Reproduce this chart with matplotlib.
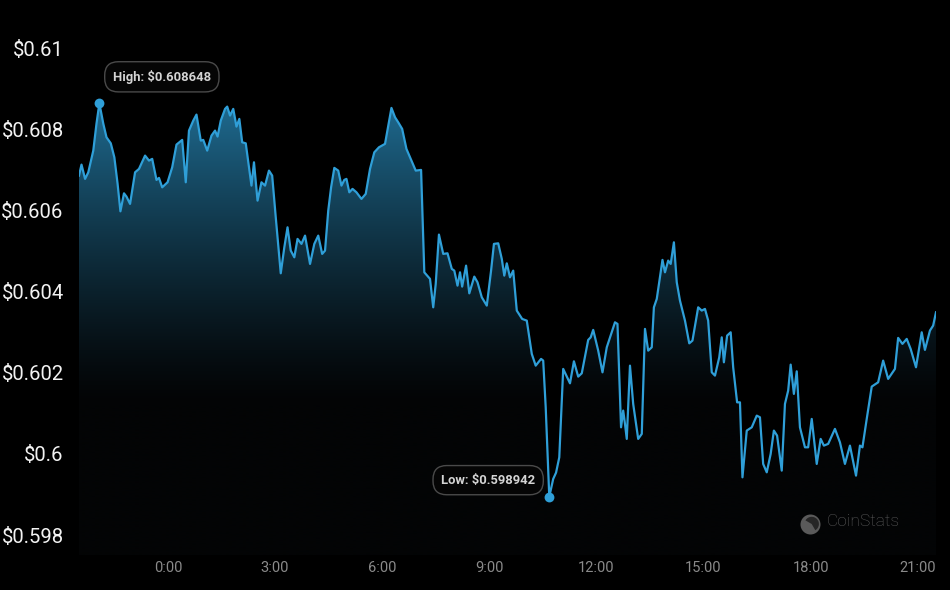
import numpy as np
import matplotlib
matplotlib.use("Agg")
import matplotlib.pyplot as plt
from matplotlib.patches import Circle, Wedge

plt.rcParams['font.family'] = ['Roboto', 'DejaVu Sans']
plt.rcParams['text.parse_math'] = False

# ---- data (hours relative to 0:00, price in USD) ----
hours = [
    -2.49, -2.42, -2.32, -2.23, -2.09, -2.00, -1.92, -1.81, -1.72, -1.60,
    -1.50, -1.41, -1.33, -1.23, -1.16, -1.06, -0.92, -0.81, -0.64, -0.53,
    -0.44, -0.32, -0.25, -0.16, -0.01, 0.12, 0.24, 0.40, 0.50, 0.59,
    0.71, 0.80, 0.92, 0.99, 1.10, 1.22, 1.32, 1.39, 1.48, 1.60,
    1.66, 1.74, 1.83, 1.92, 2.00, 2.08, 2.18, 2.27, 2.34, 2.41,
    2.51, 2.62, 2.72, 2.83, 2.92, 3.02, 3.16, 3.26, 3.35, 3.44,
    3.54, 3.63, 3.74, 3.84, 3.98, 4.10, 4.21, 4.32, 4.40, 4.49,
    4.57, 4.66, 4.77, 4.86, 4.94, 5.00, 5.08, 5.17, 5.28, 5.42,
    5.54, 5.66, 5.78, 5.91, 6.08, 6.26, 6.36, 6.45, 6.56, 6.68,
    6.82, 6.94, 7.09, 7.18, 7.34, 7.43, 7.50, 7.59, 7.71, 7.83,
    7.95, 8.02, 8.11, 8.18, 8.24, 8.35, 8.44, 8.58, 8.67, 8.79,
    8.93, 9.05, 9.13, 9.25, 9.35, 9.42, 9.49, 9.58, 9.67, 9.77,
    9.92, 10.05, 10.19, 10.30, 10.45, 10.51, 10.58, 10.68, 10.79, 10.87,
    10.96, 11.07, 11.26, 11.37, 11.49, 11.59, 11.77, 11.84, 11.91, 12.05,
    12.17, 12.29, 12.52, 12.59, 12.69, 12.75, 12.80, 12.85, 12.94, 13.03,
    13.17, 13.27, 13.36, 13.45, 13.55, 13.61, 13.69, 13.85, 13.92, 14.01,
    14.08, 14.17, 14.25, 14.34, 14.48, 14.60, 14.69, 14.85, 14.95, 15.04,
    15.13, 15.23, 15.32, 15.44, 15.51, 15.57, 15.66, 15.76, 15.83, 15.94,
    16.02, 16.09, 16.21, 16.35, 16.49, 16.58, 16.67, 16.77, 16.88, 16.97,
    17.06, 17.19, 17.28, 17.37, 17.44, 17.53, 17.61, 17.70, 17.84, 17.93,
    18.03, 18.17, 18.28, 18.37, 18.49, 18.68, 18.82, 18.96, 19.10, 19.27,
    19.38, 19.45, 19.57, 19.71, 19.89, 20.03, 20.17, 20.36, 20.45, 20.57,
    20.69, 20.80, 20.95, 21.11, 21.20, 21.34, 21.43, 21.51,
]

prices = [
    0.606863, 0.607134, 0.606782, 0.606944, 0.607479, 0.608145, 0.608648, 0.608145, 0.607807, 0.607659,
    0.607314, 0.606666, 0.605982, 0.606426, 0.606345, 0.606165, 0.606944, 0.607028, 0.607356, 0.607233,
    0.607275, 0.606757, 0.606806, 0.606574, 0.606698, 0.607068, 0.607627, 0.607743, 0.606698, 0.607973,
    0.608219, 0.608367, 0.607726, 0.607743, 0.607479, 0.607849, 0.607973, 0.607825, 0.608219, 0.608508,
    0.608564, 0.608343, 0.608508, 0.608071, 0.608261, 0.607684, 0.607659, 0.607068, 0.606616, 0.607191,
    0.606246, 0.606698, 0.606616, 0.606986, 0.606863, 0.605835, 0.604454, 0.605095, 0.605588, 0.605013,
    0.604848, 0.605302, 0.605179, 0.605383, 0.604685, 0.605179, 0.605383, 0.604932, 0.605013, 0.606000,
    0.606574, 0.607053, 0.606986, 0.606616, 0.606757, 0.606782, 0.606451, 0.606535, 0.606451, 0.606288,
    0.606412, 0.607028, 0.607437, 0.607561, 0.607645, 0.608532, 0.608301, 0.608177, 0.608015, 0.607521,
    0.607233, 0.606986, 0.607003, 0.604478, 0.604316, 0.603615, 0.604192, 0.605408, 0.604932, 0.604947,
    0.604562, 0.604520, 0.604150, 0.604478, 0.604126, 0.604643, 0.603960, 0.604372, 0.604232, 0.603862,
    0.603657, 0.604520, 0.605179, 0.605193, 0.604809, 0.604397, 0.604700, 0.604355, 0.604520, 0.603534,
    0.603329, 0.603287, 0.602466, 0.602177, 0.602343, 0.602301, 0.601149, 0.598942, 0.599383, 0.599539,
    0.599916, 0.602096, 0.601741, 0.602284, 0.601906, 0.601988, 0.602811, 0.602875, 0.603058, 0.602547,
    0.602012, 0.602629, 0.603245, 0.603206, 0.600656, 0.601068, 0.600740, 0.600370, 0.602177, 0.601233,
    0.600370, 0.600493, 0.603083, 0.602547, 0.602629, 0.603615, 0.603822, 0.604784, 0.604478, 0.604767,
    0.604685, 0.605218, 0.604232, 0.603780, 0.603287, 0.602727, 0.602794, 0.603615, 0.603534, 0.603576,
    0.603287, 0.602012, 0.601931, 0.602382, 0.602875, 0.602259, 0.602917, 0.602999, 0.602136, 0.601272,
    0.601272, 0.599423, 0.600575, 0.600656, 0.600944, 0.600903, 0.599753, 0.599546, 0.600000, 0.600575,
    0.600451, 0.599588, 0.601233, 0.601561, 0.602202, 0.601480, 0.602037, 0.600656, 0.600163, 0.600163,
    0.600863, 0.599753, 0.600370, 0.600205, 0.600247, 0.600617, 0.600286, 0.599753, 0.600205, 0.599465,
    0.600205, 0.600163, 0.600863, 0.601660, 0.601766, 0.602301, 0.601850, 0.602096, 0.602861, 0.602713,
    0.602836, 0.602589, 0.602136, 0.602999, 0.602565, 0.603041, 0.603164, 0.603492,
]

ytick_values = [0.598, 0.600, 0.602, 0.604, 0.606, 0.608, 0.610]
ytick_labels = ['$0.598', '$0.6', '$0.602', '$0.604', '$0.606', '$0.608', '$0.61']
xtick_hours = [0, 3, 6, 9, 12, 15, 18, 21]
xtick_labels = ['0:00', '3:00', '6:00', '9:00', '12:00', '15:00', '18:00', '21:00']

# ---- style ----
BG = '#000000'
LINE = '#2f9fd8'
W, H = 950, 590

fig = plt.figure(figsize=(W / 100, H / 100), dpi=100, facecolor=BG)
ax = fig.add_axes([79 / W, (H - 555.3) / H, 857 / W, 527.2 / H])
ax.set_facecolor(BG)

t = np.array(hours)
p = np.array(prices)
y0, y1 = 0.5975, 0.6105
ax.set_xlim(t[0], t[-1])
ax.set_ylim(y0, y1)

# gradient fill under the line (fades to a very dark floor tint)
poly = ax.fill_between(t, p, y0, color='none', lw=0)
vals = np.linspace(y0, y1, 600)
frac = np.clip((vals - 0.6012) / (0.6087 - 0.6012), 0, 1) ** 1.3
top = np.array([0x1f, 0x6c, 0x92]) / 255.0
floor = np.array([0x03, 0x04, 0x05]) / 255.0
grad = np.zeros((len(vals), 1, 4))
grad[:, 0, :3] = floor[None, :] + (top - floor)[None, :] * frac[:, None]
grad[:, 0, 3] = 1.0
img = ax.imshow(grad, extent=[t[0], t[-1], y0, y1], origin='lower',
                aspect='auto', interpolation='bilinear', zorder=1)
img.set_clip_path(poly.get_paths()[0], transform=ax.transData)

ax.plot(t, p, color=LINE, lw=1.6, zorder=3, solid_joinstyle='round')

# high / low markers
ih, il = int(np.argmax(p)), int(np.argmin(p))
ax.scatter([t[ih], t[il]], [p[ih], p[il]], s=50, color=LINE, zorder=5, linewidths=0)

box = dict(boxstyle='round,pad=0.62,rounding_size=1.05', fc='#050505', ec='#4a4a4a', lw=1)
ax.annotate(f'High: ${p[ih]:.6f}', xy=(t[ih], p[ih]), xytext=(45, 19),
            textcoords='offset points', ha='center', va='center',
            fontsize=9.4, fontweight='bold', color='#d4d4d4', bbox=box, zorder=6)
ax.annotate(f'Low: ${p[il]:.6f}', xy=(t[il], p[il]), xytext=(-44, 12),
            textcoords='offset points', ha='center', va='center',
            fontsize=9.4, fontweight='bold', color='#d4d4d4', bbox=box, zorder=6)

# axes styling
for s in ax.spines.values():
    s.set_visible(False)
ax.set_yticks(ytick_values)
ax.set_yticklabels(ytick_labels)
ax.set_xticks(xtick_hours)
ax.set_xticklabels(xtick_labels)
ax.tick_params(axis='y', length=0, pad=11, labelsize=14.6, labelcolor='#f2f2f2')
ax.tick_params(axis='x', length=0, pad=4, labelsize=10.5, labelcolor='#8a8a8a')
ax.grid(False)

# watermark
fig.text(827 / W, (H - 521) / H, 'CoinStats', fontsize=12.5, fontweight='light',
         color='#5e5e5e', ha='left', va='center')
iax = fig.add_axes([800 / W, (H - 535) / H, 21 / W, 21 / H])
iax.set_xlim(-1.05, 1.05)
iax.set_ylim(-1.05, 1.05)
iax.set_aspect('equal')
iax.axis('off')
iax.add_patch(Circle((0, 0), 1.0, fc='#5a5a5a', ec='none'))
iax.add_patch(Wedge((0.12, 0.05), 0.72, -60, 150, fc='#262626', ec='none'))

fig.savefig('out.png', dpi=100, facecolor=BG)
